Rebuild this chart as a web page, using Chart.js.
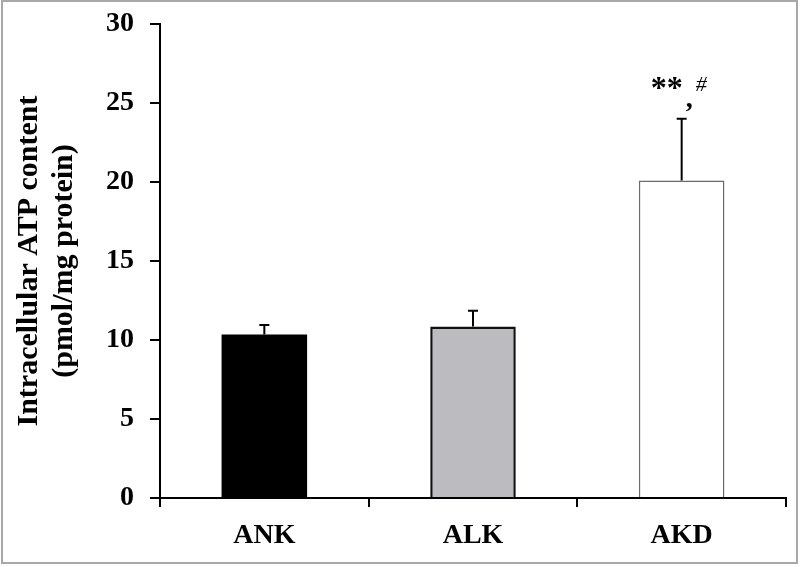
<!DOCTYPE html>
<html>
<head>
<meta charset="utf-8">
<script src="https://cdn.jsdelivr.net/npm/chart.js@4/dist/chart.umd.min.js"></script>
<style>
  html, body { margin: 0; padding: 0; background: #fff; }
  #wrap { width: 800px; height: 567px; }
</style>
</head>
<body>
<div id="wrap"><canvas id="chart" width="800" height="567"></canvas></div>
<script>
// Data
const groups = ['ANK', 'ALK', 'AKD'];
const atpMeans = [10.35, 10.85, 20.1];
const atpErrors = [0.6, 1.0, 3.9];
const yTicks = [0, 5, 10, 15, 20, 25, 30];
const marks = ['', '', '**,#'];

const barFills = ['#000000', '#bcbcc0', '#ffffff'];
const barBorders = ['#000000', '#111111', '#6a6a6a'];
const barBorderWidths = [0, 2.5, 1.5];

// white background + grey frame round the picture
const framePlugin = {
  id: 'frame',
  beforeDraw(chart) {
    const ctx = chart.ctx;
    ctx.save();
    ctx.fillStyle = '#fff';
    ctx.fillRect(0, 0, chart.width, chart.height);
    ctx.restore();
  },
  afterDraw(chart) {
    const ctx = chart.ctx;
    ctx.save();
    ctx.strokeStyle = '#a8a8a8';
    ctx.lineWidth = 2;
    ctx.strokeRect(2, 1, 795, 562);
    ctx.restore();
  }
};

// upward error bars and significance marks
const errorBarPlugin = {
  id: 'errorBars',
  afterDatasetsDraw(chart) {
    const ctx = chart.ctx;
    const yScale = chart.scales.y;
    const meta = chart.getDatasetMeta(0);
    ctx.save();
    ctx.strokeStyle = '#000';
    ctx.lineWidth = 2;
    meta.data.forEach((bar, i) => {
      const yTop = yScale.getPixelForValue(atpMeans[i]);
      const yErr = yScale.getPixelForValue(atpMeans[i] + atpErrors[i]);
      ctx.beginPath();
      ctx.moveTo(bar.x, yTop);
      ctx.lineTo(bar.x, yErr);
      ctx.moveTo(bar.x - 5, yErr);
      ctx.lineTo(bar.x + 5, yErr);
      ctx.stroke();

      if (marks[i]) {
        const parts = marks[i].split(',');
        const base = yErr - 12;
        ctx.fillStyle = '#000';
        ctx.textBaseline = 'alphabetic';
        ctx.textAlign = 'left';
        ctx.font = 'bold 32px "Liberation Serif"';
        const starW = ctx.measureText(parts[0]).width;
        let x = bar.x - 31;
        ctx.fillText(parts[0], x, base - 9);
        x += starW + 3;
        ctx.font = 'bold 28px "Liberation Serif"';
        ctx.fillText(',', x, base);
        x += ctx.measureText(',').width + 3;
        ctx.font = 'italic 22px "Liberation Serif"';
        ctx.fillText(parts[1], x, base - 16);
      }
    });
    ctx.restore();
  }
};

const chart = new Chart(document.getElementById('chart'), {
  type: 'bar',
  data: {
    labels: groups,
    datasets: [{
      data: atpMeans,
      backgroundColor: barFills,
      borderColor: barBorders,
      borderWidth: barBorderWidths,
      categoryPercentage: 1.0,
      barPercentage: 0.41
    }]
  },
  options: {
    responsive: false,
    animation: false,
    layout: { padding: { left: 0, right: 14, top: 24, bottom: 0 } },
    plugins: {
      legend: { display: false },
      tooltip: { enabled: false }
    },
    scales: {
      x: {
        offset: true,
        grid: {
          offset: true,
          drawOnChartArea: false,
          drawTicks: true,
          tickLength: 9,
          color: '#000',
          lineWidth: 2
        },
        border: { display: true, color: '#000', width: 2 },
        ticks: {
          color: '#000',
          padding: 12,
          font: { family: 'Liberation Serif', size: 28, weight: 'bold' }
        },
        afterFit(scale) { scale.height = 69; }
      },
      y: {
        min: 0,
        max: 30,
        afterBuildTicks(scale) { scale.ticks = yTicks.map(v => ({ value: v })); },
        grid: {
          drawOnChartArea: false,
          drawTicks: true,
          tickLength: 10,
          color: '#000',
          lineWidth: 2
        },
        border: { display: true, color: '#000', width: 2 },
        ticks: {
          color: '#000',
          padding: 16,
          font: { family: 'Liberation Serif', size: 28, weight: 'bold' }
        },
        title: {
          display: true,
          text: ['Intracellular ATP content', '(pmol/mg protein)'],
          color: '#000',
          padding: { top: 12, bottom: 0 },
          font: { family: 'Liberation Serif', size: 30, weight: 'bold', lineHeight: 1.15 }
        },
        afterFit(scale) {
          scale.width = 160;
          scale.paddingTop = 0;
          scale.paddingBottom = 0;
        }
      }
    }
  },
  plugins: [framePlugin, errorBarPlugin]
});
</script>
</body>
</html>
